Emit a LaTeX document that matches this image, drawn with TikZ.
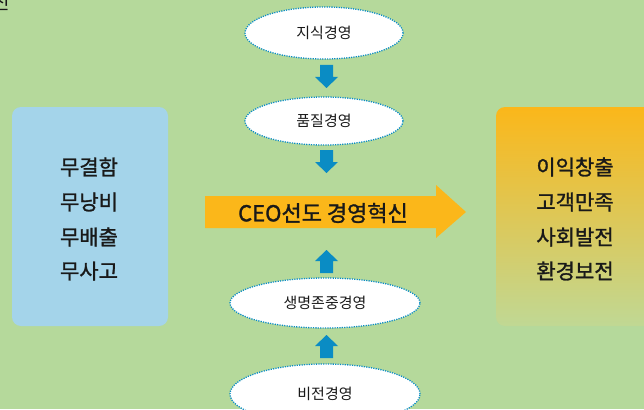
\documentclass[tikz,border=0pt]{standalone}
\usepackage{fontspec}
\setmainfont{Noto Sans CJK KR}
\newfontfamily\medfont[FakeBold=1.3]{Noto Sans CJK KR}
\usetikzlibrary{shapes.geometric,shapes.arrows}
\definecolor{bg}{RGB}{181,217,155}
\definecolor{lblue}{RGB}{164,212,234}
\definecolor{aorange}{RGB}{251,183,26}
\definecolor{gbot}{RGB}{192,216,148}
\definecolor{dblue}{RGB}{10,140,196}
\definecolor{txt}{RGB}{25,25,25}
\tikzset{
  oval/.style={ellipse, fill=white, draw=dblue, line width=1.3pt, dash pattern=on 1.2pt off 1.2pt, inner sep=0pt, font=\fontsize{15}{17}\selectfont, text=txt},
  listtext/.style={font=\medfont\fontsize{21}{23}\selectfont, text=txt, align=center},
  blockarrow/.style={fill=dblue, draw=none},
}
\begin{document}
\begin{tikzpicture}[x=1pt,y=-1pt]
\useasboundingbox (0,0) rectangle (644,409);
\clip (0,0) rectangle (644,409);
\fill[bg] (0,0) rectangle (644,409);
% partial text top-left (cut off in the reference too)
\node[anchor=south east, font=\fontsize{19}{21}\selectfont, text=txt, inner sep=0pt] (cut) at (10,11) {진};
% left box
\fill[lblue, rounded corners=9pt] (12,107) rectangle (168,326);
\node[listtext] (l1) at (89,167) {무결함};
\node[listtext] (l2) at (89,202) {무낭비};
\node[listtext] (l3) at (89,237) {무배출};
\node[listtext] (l4) at (89,271) {무사고};
% right box with gradient
\shade[top color=aorange, bottom color=gbot, rounded corners=9pt] (496,107) rectangle (660,326);
\node[listtext] (r1) at (575,167) {이익창출};
\node[listtext] (r2) at (575,202) {고객만족};
\node[listtext] (r3) at (575,237) {사회발전};
\node[listtext] (r4) at (575,271) {환경보전};
% big arrow
\fill[aorange] (205,196) -- (436,196) -- (436,185) -- (466,212) -- (436,238) -- (436,228) -- (205,228) -- cycle;
\node[font=\medfont\fontsize{22}{24}\selectfont, text=txt] (ceo) at (323,213) {CEO선도 경영혁신};
% ovals
\node[oval, minimum width=158pt, minimum height=52pt] (o1) at (324,33) {지식경영};
\node[oval, minimum width=158pt, minimum height=48pt] (o2) at (324,121) {품질경영};
\node[oval, minimum width=190pt, minimum height=50pt] (o3) at (325,303) {생명존중경영};
\node[oval, minimum width=190pt, minimum height=60pt] (o4) at (325,394) {비전경영};
% small arrows
\fill[blockarrow] (320,65) -- (333,65) -- (333,77) -- (338,77) -- (326.5,88) -- (315,77) -- (320,77) -- cycle;
\fill[blockarrow] (320,150) -- (333,150) -- (333,162) -- (338,162) -- (326.5,173) -- (315,162) -- (320,162) -- cycle;
\fill[blockarrow] (320,273) -- (333,273) -- (333,261) -- (338,261) -- (326.5,250) -- (315,261) -- (320,261) -- cycle;
\fill[blockarrow] (320,358) -- (333,358) -- (333,346) -- (338,346) -- (326.5,335) -- (315,346) -- (320,346) -- cycle;
\end{tikzpicture}
\end{document}
